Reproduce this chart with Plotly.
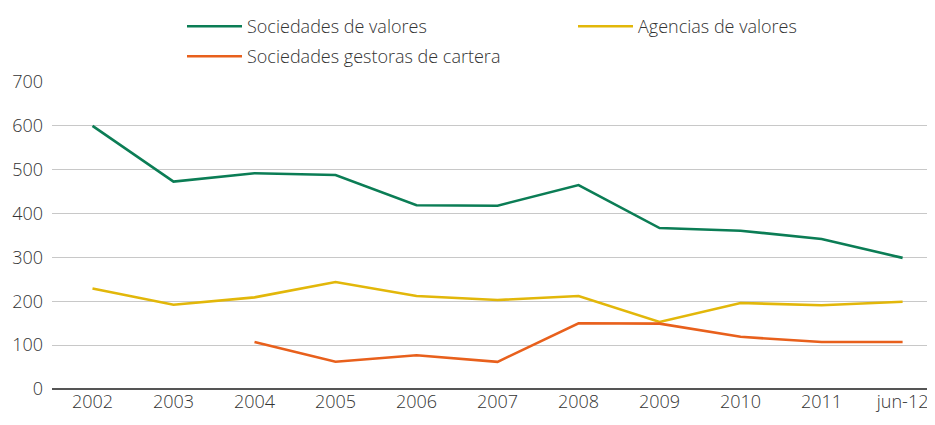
import plotly.graph_objects as go

categories = ["2002", "2003", "2004", "2005", "2006", "2007", "2008", "2009", "2010", "2011", "jun-12"]
sociedades_valores = [600, 473, 492, 488, 419, 418, 465, 367, 361, 342, 299]
agencias_valores = [229, 192, 209, 244, 212, 203, 212, 153, 196, 191, 199]
gestoras_cartera = [None, None, 107, 62, 77, 62, 150, 149, 119, 107, 107]
y_ticks = [0, 100, 200, 300, 400, 500, 600, 700]

font_family = "Open Sans, sans-serif"
text_color = "#333333"
tfont = dict(family=font_family, size=18, color=text_color, weight=300)

fig = go.Figure()
fig.add_trace(go.Scatter(x=categories, y=sociedades_valores, mode="lines",
                         name="Sociedades de valores", legend="legend",
                         line=dict(color="#0b7d55", width=2.6)))
fig.add_trace(go.Scatter(x=categories, y=agencias_valores, mode="lines",
                         name="Agencias de valores", legend="legend",
                         line=dict(color="#e2b70a", width=2.6)))
fig.add_trace(go.Scatter(x=categories, y=gestoras_cartera, mode="lines",
                         name="Sociedades gestoras de cartera", legend="legend2",
                         line=dict(color="#e8601c", width=2.6)))

legend_common = dict(orientation="h", x=0.1877, xanchor="left", yanchor="top",
                     xref="container", yref="container", font=tfont,
                     entrywidth=321, itemwidth=55, bgcolor="rgba(0,0,0,0)")

fig.update_layout(
    width=927, height=417,
    margin=dict(l=44, r=0, t=74, b=36, autoexpand=False),
    paper_bgcolor="white", plot_bgcolor="white",
    font=tfont,
    showlegend=True,
    legend=dict(y=1.0, **legend_common),
    legend2=dict(y=0.928, **legend_common),
    xaxis=dict(type="category", range=[-0.5, 10.4], showgrid=False, automargin=False,
               showline=False, ticks="", tickfont=tfont),
    yaxis=dict(range=[0, 700], tickvals=y_ticks, showgrid=True, automargin=False,
               gridcolor="#c8c8c8", gridwidth=1, zeroline=True,
               zerolinecolor="#555555", zerolinewidth=1.5,
               ticks="", ticklabelstandoff=8, tickfont=tfont),
)

fig.write_html("out.html")
